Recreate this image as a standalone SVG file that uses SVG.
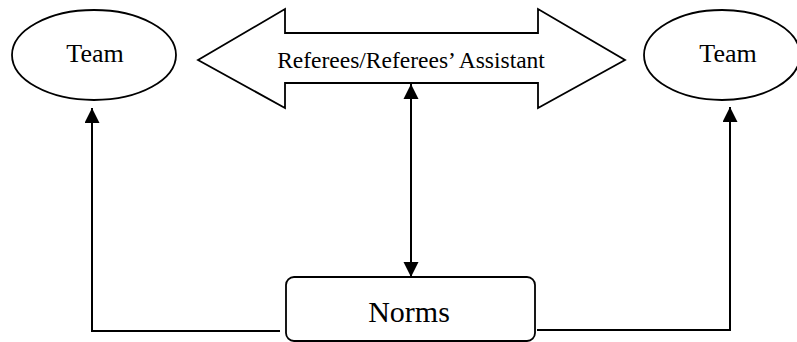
<svg xmlns="http://www.w3.org/2000/svg" width="797" height="342" viewBox="0 0 797 342">
  <style>
    .shape { fill: #ffffff; stroke: #000000; stroke-width: 1.8; }
    .label { font-family: "Liberation Serif", "Times New Roman", serif; fill: #000000; text-anchor: middle; }
    .link { fill: none; stroke: #000000; stroke-width: 2; }
  </style>
  <defs>
    <marker id="head" viewBox="0 0 15 16" markerWidth="15" markerHeight="16" refX="15" refY="7.5" orient="auto" markerUnits="userSpaceOnUse">
      <path d="M0,0 L15,7.5 L0,15 Z" fill="#000000"/>
    </marker>
    <marker id="tail" viewBox="0 0 15 16" markerWidth="15" markerHeight="16" refX="0" refY="7.5" orient="auto" markerUnits="userSpaceOnUse">
      <path d="M15,0 L0,7.5 L15,15 Z" fill="#000000"/>
    </marker>
  </defs>

  <rect width="797" height="342" fill="#ffffff"/>

  <g id="team-left">
    <ellipse class="shape" cx="94" cy="55" rx="82" ry="45"/>
    <text class="label" x="95" y="62" font-size="26">Team</text>
  </g>

  <g id="team-right">
    <ellipse class="shape" cx="722" cy="55" rx="78" ry="45"/>
    <text class="label" x="728" y="62" font-size="26">Team</text>
  </g>

  <g id="referees">
    <polygon class="shape" points="198,60 285,9 285,33 538,33 538,9 625,60 538,108 538,83 285,83 285,108"/>
    <text class="label" x="411" y="68" font-size="23.5">Referees/Referees’ Assistant</text>
  </g>

  <g id="norms">
    <rect class="shape" x="286" y="277" width="249" height="64" rx="8" ry="8"/>
    <text class="label" x="409" y="322" font-size="30">Norms</text>
  </g>

  <g id="connectors">
    <line class="link" x1="411" y1="84" x2="411" y2="277" marker-start="url(#tail)" marker-end="url(#head)"/>
    <polyline class="link" points="280,331 92,331 92,108" marker-end="url(#head)"/>
    <polyline class="link" points="537,330 730,330 730,107" marker-end="url(#head)"/>
  </g>
</svg>
